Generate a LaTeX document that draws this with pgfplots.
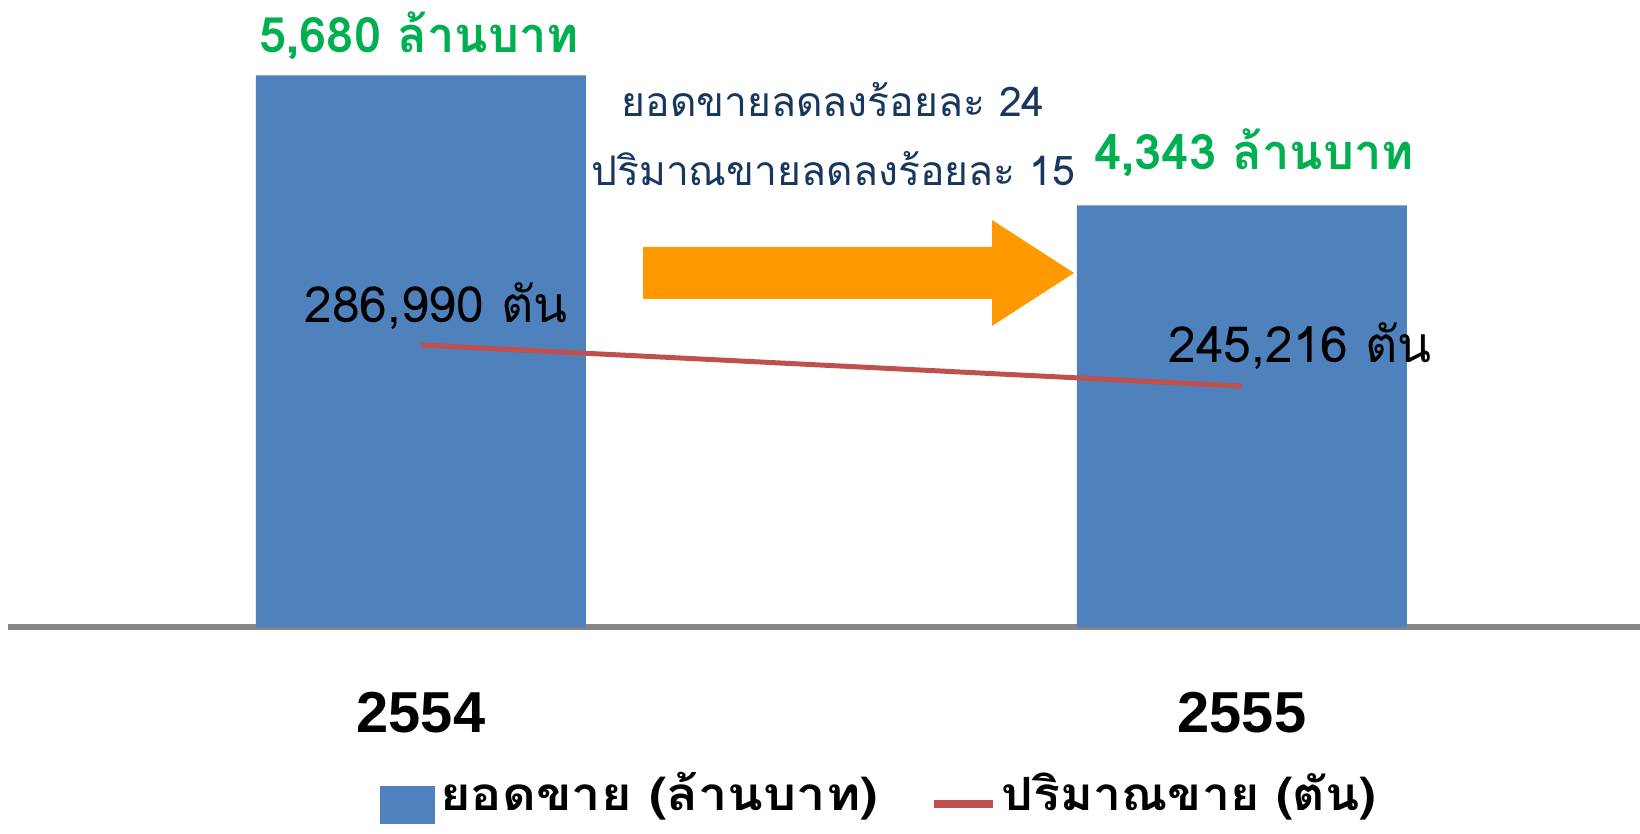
\documentclass[border=0pt]{standalone}
\usepackage{pgfplots}
\pgfplotsset{compat=1.18}
\usepackage{fontspec}
\setmainfont[Script=Thai]{Loma}
\newfontfamily\thaifont[Script=Thai]{Loma}
\newfontfamily\latinfont{Liberation Sans}
\definecolor{barblue}{HTML}{4F81BD}
\definecolor{linered}{HTML}{C0504D}
\definecolor{labelgreen}{HTML}{00B050}
\definecolor{navy}{HTML}{17375E}
\definecolor{arroworange}{HTML}{FF9900}
\definecolor{axisgray}{HTML}{868686}
\begin{document}
\begin{tikzpicture}
\useasboundingbox (0,0) rectangle (820bp,417bp);
\begin{axis}[
  at={(4bp,103.25bp)}, anchor=south west,
  scale only axis, width=816bp, height=313.75bp,
  xmin=-0.503, xmax=1.4848, ymin=0, ymax=6454.6,
  ybar, bar width=165bp,
  axis x line*=bottom, hide y axis,
  x axis line style={-, line width=3bp, draw=axisgray},
  xtick={0,1}, xticklabels={2554,2555}, major tick length=0pt,
  xticklabel style={anchor=base, yshift=-52.25bp, font=\latinfont\bfseries\fontsize{29}{30}\selectfont},
  clip=false,
]
\addplot[fill=barblue, draw=none] coordinates {(0,5680) (1,4343)};
\node[anchor=base, text=labelgreen, font=\thaifont\bfseries\fontsize{24.5}{28}\selectfont, yshift=11.5bp, xshift=-1bp] at (axis cs:0,5680) {5,680 ล้านบาท};
\node[anchor=base, text=labelgreen, font=\thaifont\bfseries\fontsize{24.5}{28}\selectfont, yshift=18bp, xshift=6bp] at (axis cs:1,4343) {4,343 ล้านบาท};
\end{axis}
\begin{axis}[
  at={(4bp,103.25bp)}, anchor=south west,
  scale only axis, width=816bp, height=313.75bp,
  xmin=-0.503, xmax=1.4848, ymin=0, ymax=637500,
  hide x axis, hide y axis, clip=false,
  legend style={at={(0.2279,-0.2717)}, anchor=west, draw=none, fill=none, inner sep=0pt,
    legend columns=2, font=\thaifont\bfseries\fontsize{23}{25}\selectfont,
    nodes={inner xsep=2.5bp, inner ysep=0pt},
    /tikz/every even column/.append style={column sep=23.5bp}},
]
\addlegendimage{legend image code/.code={\fill[barblue] (0bp,-15bp) rectangle (27bp,3.5bp);}}
\addplot[linered, line width=2.5bp, mark=none, legend image code/.code={\draw[linered, line width=4bp] (0bp,-5.5bp) -- (29.5bp,-5.5bp);}] coordinates {(0,286990) (1,245216)};
\legend{\scalebox{1.14}[1]{ยอดขาย (ล้านบาท)}, \scalebox{1.09}[1]{ปริมาณขาย (ตัน)}}
\node[anchor=base, text=black, font=\thaifont\fontsize{25}{28}\selectfont, yshift=11.5bp, xshift=7.5bp] at (axis cs:0,286990) {286,990 ตัน};
\node[anchor=base, text=black, font=\thaifont\fontsize{25}{28}\selectfont, yshift=12bp, xshift=29bp] at (axis cs:1,245216) {245,216 ตัน};
\end{axis}
\fill[arroworange] (321.5bp,293.5bp) -- (496bp,293.5bp) -- (496bp,307bp) -- (537bp,280.5bp) -- (496bp,254bp) -- (496bp,267.5bp) -- (321.5bp,267.5bp) -- cycle;
\node[anchor=base, text=navy, font=\thaifont\fontsize{20.5}{24}\selectfont] at (416.5bp,358.5bp) {ยอดขายลดลงร้อยละ 24};
\node[anchor=base, text=navy, font=\thaifont\fontsize{20.5}{24}\selectfont] at (416.5bp,324bp) {ปริมาณขายลดลงร้อยละ 15};
\end{tikzpicture}
\end{document}
